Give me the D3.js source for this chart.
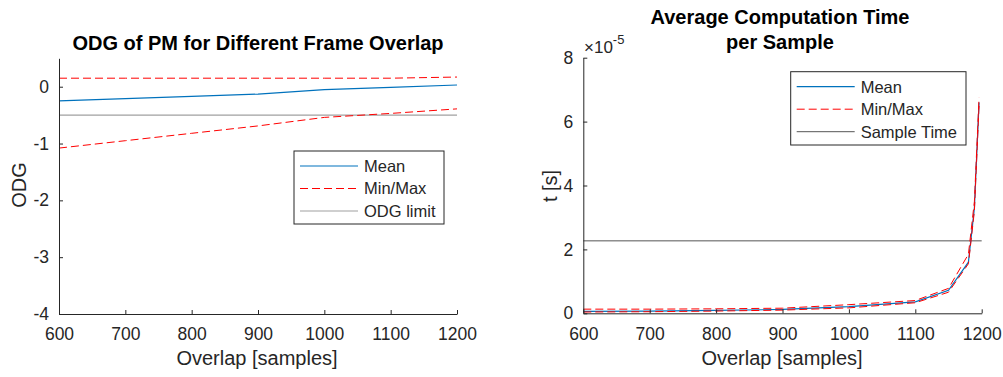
<!DOCTYPE html>
<html>
<head>
<meta charset="utf-8">
<script src="https://cdn.jsdelivr.net/npm/d3@7"></script>
<style>
  body { margin: 0; background: #fff; }
  svg { display: block; font-family: "Liberation Sans", Arial, Helvetica, sans-serif; }
</style>
</head>
<body>
<div id="chart"></div>
<script>
// left panel: ODG vs overlap
const overlapL = [600, 700, 800, 900, 1000, 1100, 1200];
const meanL = [-0.25, -0.21, -0.17, -0.13, -0.05, -0.01, 0.03];
const maxL = [0.15, 0.15, 0.15, 0.15, 0.15, 0.15, 0.17];
const minL = [-1.08, -0.95, -0.82, -0.69, -0.54, -0.47, -0.39];
const odgLimit = -0.5;

// right panel: computation time per sample (units of 1e-5 s)
const overlapR = [600, 700, 800, 900, 1000, 1100, 1150, 1180, 1189, 1196];
const meanR = [0.06, 0.07, 0.09, 0.12, 0.21, 0.36, 0.72, 1.6, 3.3, 6.6];
const maxR = [0.13, 0.13, 0.14, 0.16, 0.27, 0.4, 0.78, 1.85, 3.5, 6.75];
const minR = [0.04, 0.05, 0.07, 0.1, 0.17, 0.33, 0.66, 1.55, 3.2, 6.5];
const sampleTime = 1 / 44100;

const xTicks = [600, 700, 800, 900, 1000, 1100, 1200];
const yTicksL = [0, -1, -2, -3, -4];
const yTicksR = [0, 2, 4, 6, 8];

const W = 1003, H = 377;
const axisColor = "#262626";
const blue = "#0072BD", red = "#FF0000";
const tickFont = 17.5, labelFont = 20, titleFont = 20, legendFont = 16.5;

const svg = d3.select("#chart").append("svg")
  .attr("width", W).attr("height", H);

// plain hyphen minus like the original
const fmt = d => (d < 0 ? "-" + Math.abs(d) : String(d));

function drawAxes(g, x, y, xt, yt) {
  const xAxis = d3.axisBottom(x).tickValues(xt).tickSizeInner(-4).tickSizeOuter(0).tickPadding(14).tickFormat(fmt);
  const yAxis = d3.axisLeft(y).tickValues(yt).tickSizeInner(-4).tickSizeOuter(0).tickPadding(10).tickFormat(fmt);
  const gx = g.append("g").attr("transform", `translate(0,${y.range()[0]})`).call(xAxis);
  const gy = g.append("g").attr("transform", `translate(${x.range()[0]},0)`).call(yAxis);
  [gx, gy].forEach(a => {
    a.attr("font-family", null).attr("font-size", null);
    a.select(".domain").attr("stroke", axisColor);
    a.selectAll(".tick line").attr("stroke", axisColor);
    a.selectAll(".tick text").attr("fill", axisColor).attr("font-size", tickFont);
  });
  gx.selectAll(".tick text").attr("dy", "0.71em");
}

function drawLine(g, x, y, xs, ys, color, dash, w) {
  const line = d3.line().x((d, i) => x(xs[i])).y(d => y(d));
  g.append("path").datum(ys)
    .attr("d", line)
    .attr("fill", "none")
    .attr("stroke", color)
    .attr("stroke-width", w)
    .attr("stroke-dasharray", dash);
}

function drawLegend(g, x0, y0, w, h, items) {
  g.append("rect").attr("x", x0).attr("y", y0).attr("width", w).attr("height", h)
    .attr("fill", "#fff").attr("stroke", axisColor).attr("stroke-width", 1);
  items.forEach((it, i) => {
    const yy = y0 + 15 + i * 22.5;
    g.append("line").attr("x1", x0 + 6).attr("x2", x0 + 64).attr("y1", yy).attr("y2", yy)
      .attr("stroke", it.color).attr("stroke-width", it.w).attr("stroke-dasharray", it.dash);
    g.append("text").attr("x", x0 + 70).attr("y", yy).attr("dy", "0.36em")
      .attr("font-size", legendFont).attr("fill", axisColor).text(it.label);
  });
}

// ---- left panel ----
const gL = svg.append("g");
const xL = d3.scaleLinear().domain([600, 1200]).range([59, 457]);
const yL = d3.scaleLinear().domain([-4, 0.5]).range([314, 58.3]);

drawLine(gL, xL, yL, overlapL, overlapL.map(() => odgLimit), "#a0a0a0", null, 1.2);
drawLine(gL, xL, yL, overlapL, maxL, red, "8,4", 1);
drawLine(gL, xL, yL, overlapL, minL, red, "8,4", 1);
drawLine(gL, xL, yL, overlapL, meanL, blue, null, 1.2);
drawAxes(gL, xL, yL, xTicks, yTicksL);

gL.append("text").attr("x", 258).attr("y", 50).attr("text-anchor", "middle")
  .attr("font-size", titleFont).attr("font-weight", "bold").attr("fill", "#000")
  .text("ODG of PM for Different Frame Overlap");
gL.append("text").attr("x", 257).attr("y", 365).attr("text-anchor", "middle")
  .attr("font-size", labelFont).attr("fill", axisColor).text("Overlap [samples]");
gL.append("text").attr("transform", "translate(26,185) rotate(-90)").attr("text-anchor", "middle")
  .attr("font-size", labelFont).attr("fill", axisColor).text("ODG");

drawLegend(gL, 294, 151, 150, 73, [
  { label: "Mean", color: blue, dash: null, w: 1.2 },
  { label: "Min/Max", color: red, dash: "8,4", w: 1 },
  { label: "ODG limit", color: "#a0a0a0", dash: null, w: 1.2 }
]);

// ---- right panel ----
const gR = svg.append("g");
const xR = d3.scaleLinear().domain([600, 1200]).range([583.3, 981.7]);
const yR = d3.scaleLinear().domain([0, 8]).range([313.3, 57.7]);

drawLine(gR, xR, yR, [600, 1200], [sampleTime * 1e5, sampleTime * 1e5], "#555555", null, 1);
drawLine(gR, xR, yR, overlapR, meanR, blue, null, 1.2);
drawLine(gR, xR, yR, overlapR, maxR, red, "8,4", 1);
drawLine(gR, xR, yR, overlapR, minR, red, "8,4", 1);
drawAxes(gR, xR, yR, xTicks, yTicksR);

const ex = gR.append("text").attr("x", 584).attr("y", 53).attr("font-size", 17).attr("fill", axisColor);
ex.append("tspan").text("\u00d710");
ex.append("tspan").attr("dy", -9).attr("font-size", 13).text("-5");

gR.append("text").attr("x", 780).attr("y", 24).attr("text-anchor", "middle")
  .attr("font-size", titleFont).attr("font-weight", "bold").attr("fill", "#000")
  .text("Average Computation Time");
gR.append("text").attr("x", 780).attr("y", 49).attr("text-anchor", "middle")
  .attr("font-size", titleFont).attr("font-weight", "bold").attr("fill", "#000")
  .text("per Sample");
gR.append("text").attr("x", 782).attr("y", 365).attr("text-anchor", "middle")
  .attr("font-size", labelFont).attr("fill", axisColor).text("Overlap [samples]");
gR.append("text").attr("transform", "translate(557,186) rotate(-90)").attr("text-anchor", "middle")
  .attr("font-size", labelFont).attr("fill", axisColor).text("t [s]");

drawLegend(gR, 790.7, 71.7, 175.3, 73.3, [
  { label: "Mean", color: blue, dash: null, w: 1.2 },
  { label: "Min/Max", color: red, dash: "8,4", w: 1 },
  { label: "Sample Time", color: "#555555", dash: null, w: 1 }
]);
</script>
</body>
</html>
